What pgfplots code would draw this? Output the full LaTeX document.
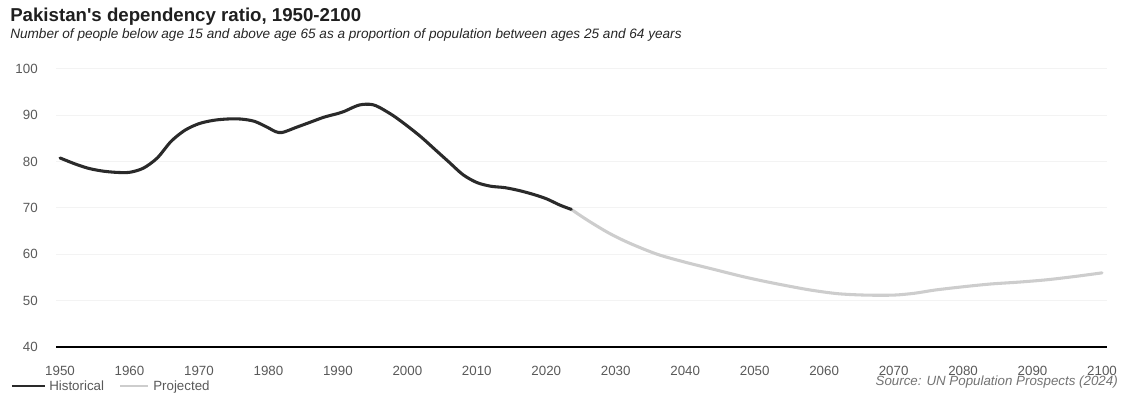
\documentclass[border=0pt]{standalone}
\usepackage{fontspec}
\setmainfont{Liberation Sans}
\usepackage{pgfplots}
\pgfplotsset{compat=1.18}
\definecolor{histc}{HTML}{2A2A2A}
\definecolor{projc}{HTML}{CDCDCD}
\definecolor{tickc}{HTML}{595959}
\definecolor{gridc}{HTML}{F3F3F3}
\begin{document}
\begin{tikzpicture}
\begin{axis}[
  at={(0,0)}, anchor=origin,
  scale only axis,
  width=788.25pt, height=208.5pt,
  xmin=1949.42, xmax=2100.72,
  ymin=40, ymax=100,
  axis line style={draw=none},
  xtick={1950,1960,...,2100},
  ytick={40,50,...,100},
  major tick length=0pt,
  xticklabel style={anchor=base, yshift=-21.5pt, inner sep=0pt, text=tickc, font=\fontsize{10}{12}\selectfont},
  yticklabel style={anchor=east, xshift=-13.5pt, inner sep=0pt, text=tickc, font=\fontsize{10}{12}\selectfont},
  /pgf/number format/assume math mode=true,
  /pgf/number format/1000 sep={},
  ymajorgrids, grid style={gridc, line width=0.75pt},
  clip=false,
]
\addplot[projc, line width=2.3pt, line join=round, line cap=round, smooth, tension=0.5] coordinates {
(2023.6,69.7) (2026,67.3) (2029,64.6) (2032,62.4) (2036,60.0) (2040,58.3)
(2044,56.8) (2048,55.3) (2051,54.3) (2054,53.4) (2058,52.3) (2062,51.5)
(2066,51.2) (2070,51.2) (2073,51.6) (2076,52.3) (2080,53.0) (2084,53.6)
(2088,54.0) (2092,54.5) (2096,55.2) (2100,56.0)
};
\addplot[histc, line width=2.3pt, line join=round, line cap=round, smooth, tension=0.5] coordinates {
(1950,80.8) (1952,79.6) (1954,78.6) (1956,78.0) (1958,77.7) (1960,77.7)
(1962,78.6) (1964,80.8) (1966,84.4) (1968,86.8) (1970,88.2) (1972,88.9)
(1974,89.2) (1976,89.2) (1978,88.7) (1980,87.3) (1981,86.5) (1982,86.3)
(1984,87.4) (1986,88.5) (1988,89.6) (1990,90.4) (1991,90.9) (1992,91.6)
(1993,92.2) (1994,92.4) (1995,92.3) (1996,91.7) (1998,89.9) (2000,87.7)
(2002,85.3) (2004,82.6) (2006,79.9) (2008,77.2) (2010,75.5) (2012,74.7)
(2014,74.4) (2016,73.8) (2018,73.0) (2020,72.0) (2022,70.6) (2023.6,69.7)
};
\draw[black, line width=1.1pt] (axis cs:1949.42,40) -- (axis cs:2100.72,40);
\end{axis}
\useasboundingbox (-42pt,-38.25pt) rectangle (803.25pt,260.25pt);
% titles
\node[anchor=base west, inner sep=0pt, text=black!88, font=\fontsize{14}{16}\selectfont\bfseries] at (-34.5pt,243.75pt) {Pakistan\textquotesingle s dependency ratio, 1950-2100};
\node[anchor=base west, inner sep=0pt, text=black!85, font=\fontsize{10.2}{12}\selectfont\itshape] at (-34.5pt,231pt) {Number of people below age 15 and above age 65 as a proportion of population between ages 25 and 64 years};
% legend
\draw[histc, line width=1.5pt] (-33pt,-29.25pt) -- (-8.25pt,-29.25pt);
\node[anchor=base west, inner sep=0pt, text=tickc, font=\fontsize{10}{12}\selectfont] at (-5.25pt,-33pt) {Historical};
\draw[projc, line width=1.2pt] (48pt,-29.25pt) -- (69pt,-29.25pt);
\node[anchor=base west, inner sep=0pt, text=tickc, font=\fontsize{10}{12}\selectfont] at (72.75pt,-33pt) {Projected};
% source
\node[anchor=base east, inner sep=0pt, text=black!55, font=\fontsize{10}{12}\selectfont\itshape] at (796.5pt,-29.25pt) {Source: UN Population Prospects (2024)};
\end{tikzpicture}
\end{document}
